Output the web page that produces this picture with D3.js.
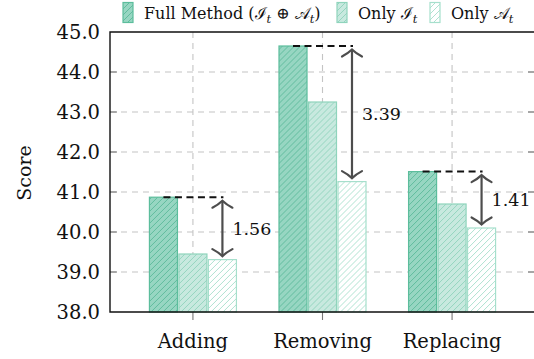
<!DOCTYPE html>
<html>
<head>
<meta charset="utf-8">
<script src="https://cdn.jsdelivr.net/npm/d3@7"></script>
<style>
  html, body { margin: 0; padding: 0; background: #fff; }
  svg { display: block; }
  text { fill: #111; }
</style>
</head>
<body>
<svg id="chart" width="534" height="359"></svg>
<script>
// Scores per task and model variant
const categories = ["Adding", "Removing", "Replacing"];
const seriesNames = ["full", "onlyI", "onlyA"];
const fullMethod = [40.87, 44.65, 41.51];
const onlyI = [39.45, 43.25, 40.70];
const onlyA = [39.31, 41.26, 40.10];
const gapLabels = ["1.56", "3.39", "1.41"];
const yTicks = [38, 39, 40, 41, 42, 43, 44, 45];

const values = { full: fullMethod, onlyI: onlyI, onlyA: onlyA };

const plotL = 110, plotR = 535, plotT = 32, plotB = 312;
const serif = "DejaVu Serif";

const svg = d3.select("#chart");

const y = d3.scaleLinear().domain([38, 45]).range([plotB, plotT]);
const x = d3.scalePoint().domain(categories).range([plotL, plotR]).padding(0.64);
const xs = d3.scaleBand().domain(seriesNames).range([-43.5, 43.5]).paddingInner(0.05);

// Fill, hatch and outline colours per variant
const base = "#66c2a5";
const styles = {
  full:  { fill: d3.interpolateRgb("#ffffff", base)(0.68), hatch: "#5ab998", stroke: "#5cbd9c" },
  onlyI: { fill: d3.interpolateRgb("#ffffff", base)(0.36), hatch: "#8ed3bb", stroke: "#8fd4bc" },
  onlyA: { fill: "#ffffff", hatch: "#a6dfcc", stroke: "#a6dfcc" }
};

// Diagonal hatch patterns
const defs = svg.append("defs");
seriesNames.forEach(s => {
  const p = defs.append("pattern")
    .attr("id", "hatch-" + s)
    .attr("patternUnits", "userSpaceOnUse")
    .attr("width", 6).attr("height", 6);
  p.append("rect").attr("width", 6).attr("height", 6).attr("fill", styles[s].fill);
  p.append("path")
    .attr("d", "M0,6 L6,0 M-1,1 L1,-1 M5,7 L7,5")
    .attr("stroke", styles[s].hatch)
    .attr("stroke-width", 0.9);
});

const innerTicks = yTicks.filter(t => t > 38 && t < 45);

// Dashed grid
const grid = svg.append("g");
grid.selectAll("line.h").data(innerTicks).join("line")
  .attr("x1", plotL).attr("x2", plotR)
  .attr("y1", d => y(d)).attr("y2", d => y(d))
  .attr("stroke", "#c4c4c4").attr("stroke-width", 1.1)
  .attr("stroke-dasharray", "6,5");
grid.selectAll("line.v").data(categories).join("line")
  .attr("x1", d => x(d)).attr("x2", d => x(d))
  .attr("y1", plotT).attr("y2", plotB)
  .attr("stroke", "#c4c4c4").attr("stroke-width", 1.1)
  .attr("stroke-dasharray", "6,5");

// Bars
const groups = svg.append("g").selectAll("g").data(categories).join("g")
  .attr("transform", d => `translate(${x(d)},0)`);
groups.selectAll("rect")
  .data((c, i) => seriesNames.map(s => ({ s, v: values[s][i] })))
  .join("rect")
  .attr("x", d => xs(d.s))
  .attr("width", xs.bandwidth())
  .attr("y", d => y(d.v))
  .attr("height", d => y(38) - y(d.v))
  .attr("fill", d => `url(#hatch-${d.s})`)
  .attr("stroke", d => styles[d.s].stroke)
  .attr("stroke-width", 1.2);

// Tick marks
const tickG = svg.append("g");
tickG.selectAll("line.yl").data(innerTicks).join("line")
  .attr("x1", plotL).attr("x2", plotL + 7)
  .attr("y1", d => y(d)).attr("y2", d => y(d))
  .attr("stroke", "#777").attr("stroke-width", 1.1);
tickG.selectAll("line.yr").data(innerTicks).join("line")
  .attr("x1", plotR - 7).attr("x2", plotR)
  .attr("y1", d => y(d)).attr("y2", d => y(d))
  .attr("stroke", "#777").attr("stroke-width", 1.1);
tickG.selectAll("line.xb").data(categories).join("line")
  .attr("x1", d => x(d)).attr("x2", d => x(d))
  .attr("y1", plotB).attr("y2", plotB + 8)
  .attr("stroke", "#777").attr("stroke-width", 1.1);

// Axis frame
svg.append("path")
  .attr("d", `M${plotR},${plotT} L${plotL},${plotT} L${plotL},${plotB} L${plotR},${plotB}`)
  .attr("fill", "none").attr("stroke", "#111").attr("stroke-width", 1.4);

// Y tick labels
svg.append("g").selectAll("text").data(yTicks).join("text")
  .attr("x", plotL - 10)
  .attr("y", d => y(d) + 7)
  .attr("text-anchor", "end")
  .attr("font-family", serif)
  .attr("font-size", 19.5)
  .text(d => d3.format(".1f")(d));

// Category labels
svg.append("g").selectAll("text").data(categories).join("text")
  .attr("x", d => x(d))
  .attr("y", 348)
  .attr("text-anchor", "middle")
  .attr("font-family", serif)
  .attr("font-size", 19.5)
  .text(d => d);

// Y axis title
svg.append("text")
  .attr("transform", "translate(31,173) rotate(-90)")
  .attr("text-anchor", "middle")
  .attr("font-family", serif)
  .attr("font-size", 19)
  .text("Score");

// Gap annotations: dashed line at the full-method score, double arrow down to Only A_t
const ann = svg.append("g");
const arrowColor = "#4d4d4d";
function chevron(cx, cy, dir) {
  // dir = -1 for an upward tip, +1 for a downward tip
  const w = 10, h = 7 * -dir;
  return `M${cx - w},${cy + h} Q${cx - 4},${cy + h * 0.55} ${cx},${cy} Q${cx + 4},${cy + h * 0.55} ${cx + w},${cy + h}`;
}
categories.forEach((c, i) => {
  const xFull = x(c) + xs("full") + xs.bandwidth() / 2;
  const xA = x(c) + xs("onlyA") + xs.bandwidth() / 2;
  const yHi = y(fullMethod[i]);
  const yLo = y(onlyA[i]);
  ann.append("line")
    .attr("x1", xFull).attr("x2", xA + 1)
    .attr("y1", yHi).attr("y2", yHi)
    .attr("stroke", "#111").attr("stroke-width", 2)
    .attr("stroke-dasharray", "7,4.5");
  const t1 = yHi + 3.5, t2 = yLo - 3.5;
  ann.append("line")
    .attr("x1", xA).attr("x2", xA)
    .attr("y1", t1).attr("y2", t2)
    .attr("stroke", arrowColor).attr("stroke-width", 2.2);
  ann.append("path").attr("d", chevron(xA, t1, -1))
    .attr("fill", "none").attr("stroke", arrowColor).attr("stroke-width", 2.2)
    .attr("stroke-linecap", "round");
  ann.append("path").attr("d", chevron(xA, t2, 1))
    .attr("fill", "none").attr("stroke", arrowColor).attr("stroke-width", 2.2)
    .attr("stroke-linecap", "round");
  ann.append("text")
    .attr("x", xA + 10)
    .attr("y", (t1 + t2) / 2 + 6.5)
    .attr("font-family", serif)
    .attr("font-size", 17.5)
    .text(gapLabels[i]);
});

// Legend
const legend = svg.append("g");
const legendItems = [
  { s: "full", x: 123, parts: [["Full Method (", ""], ["ℐ", "t"], [" ⊕ ", ""], ["𝒜", "t"], [")", ""]] },
  { s: "onlyI", x: 337, parts: [["Only ", ""], ["ℐ", "t"]] },
  { s: "onlyA", x: 430, parts: [["Only ", ""], ["𝒜", "t"]] }
];
legendItems.forEach(item => {
  legend.append("rect")
    .attr("x", item.x).attr("y", 2.5).attr("width", 10).attr("height", 20)
    .attr("fill", `url(#hatch-${item.s})`)
    .attr("stroke", styles[item.s].stroke).attr("stroke-width", 1.2);
  const t = legend.append("text")
    .attr("x", item.x + 21).attr("y", 18.5)
    .attr("font-family", serif)
    .attr("font-size", 16);
  let lowered = false;
  item.parts.forEach(p => {
    const main = t.append("tspan").text(p[0]);
    if (lowered) { main.attr("dy", -4); lowered = false; }
    if (p[1]) {
      t.append("tspan").attr("dy", 4).attr("font-size", 11.5).attr("font-style", "italic").text(p[1]);
      lowered = true;
    }
  });
});
</script>
</body>
</html>
